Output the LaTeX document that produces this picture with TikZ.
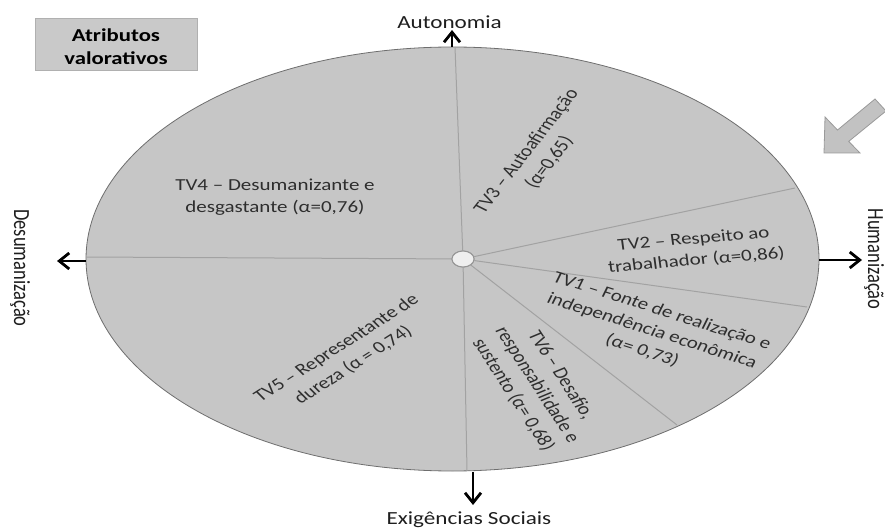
\documentclass[tikz,border=0pt]{standalone}
\usepackage{fontspec}
\setmainfont{Carlito}
\usetikzlibrary{arrows.meta,shapes.geometric}
\definecolor{diskfill}{HTML}{C6C6C6}
\definecolor{diskedge}{HTML}{6E6E6E}
\definecolor{spokecol}{HTML}{A2A2A2}
\definecolor{boxfill}{HTML}{C9C9C9}
\definecolor{boxedge}{HTML}{B0B0B0}
\definecolor{hubfill}{HTML}{EFEFEF}
\definecolor{hubedge}{HTML}{959595}
\definecolor{regioncol}{HTML}{2E2E2E}
\definecolor{labelcol}{HTML}{1E1E1E}
\definecolor{bigarrowfill}{HTML}{C2C2C2}
\definecolor{bigarrowedge}{HTML}{9A9A9A}
\begin{document}
\begin{tikzpicture}[x=1pt,y=-1pt,
  spoke/.style={draw=spokecol, line width=1pt},
  axisarrow/.style={draw=black, line width=2.8pt, -{Straight Barb[length=10pt,width=16pt]}},
  axislabel/.style={font=\fontsize{18.5}{22}\selectfont, text=labelcol, inner sep=0pt, transform shape},
  region/.style={font=\fontsize{16.8}{21.5}\selectfont, text=regioncol, align=center, inner sep=0pt, transform shape},
  titlebox/.style={rectangle, draw=boxedge, fill=boxfill, line width=0.8pt, minimum width=129.6pt, minimum height=52pt, inner sep=0pt, transform shape},
  titletext/.style={font=\bfseries\fontsize{18.2}{23}\selectfont, text=black, align=center, inner sep=0pt, transform shape}
]
\useasboundingbox (0,0) rectangle (885,529);

% disk
\path[fill=diskfill, draw=diskedge, line width=0.8pt] (452.5,259) ellipse [x radius=366.5, y radius=212];

% hub and spoke end points
\node[ellipse, draw=hubedge, fill=hubfill, line width=1pt, minimum width=22pt, minimum height=16pt, inner sep=0pt] (hub) at (463,259) {};
\coordinate (pL) at (86,257);
\coordinate (pT) at (455,47);
\coordinate (p2) at (795,188);
\coordinate (p1) at (807,307);
\coordinate (p6) at (677,425);
\coordinate (pB) at (467,471);
\draw[spoke] (hub) -- (pL);
\draw[spoke] (hub) -- (pT);
\draw[spoke] (hub) -- (p2);
\draw[spoke] (hub) -- (p1);
\draw[spoke] (hub) -- (p6);
\draw[spoke] (hub) -- (pB);
\node[ellipse, draw=hubedge, fill=hubfill, line width=1pt, minimum width=22pt, minimum height=16pt, inner sep=0pt] at (hub) {};

% axis arrows
\coordinate (tA) at (452,47);  \coordinate (tB) at (452,30);
\coordinate (bA) at (473,472); \coordinate (bB) at (473,505);
\coordinate (lA) at (86,261);  \coordinate (lB) at (57,261);
\coordinate (rA) at (819,260); \coordinate (rB) at (862,260);
\draw[axisarrow] (tA) -- (tB);
\draw[axisarrow] (bA) -- (bB);
\draw[axisarrow] (lA) -- (lB);
\draw[axisarrow] (rA) -- (rB);

% axis labels
\begin{scope}[shift={(449.5,29)}, xscale=1.25]
  \node[axislabel, anchor=base] (autonomia) at (0,0) {Autonomia};
\end{scope}
\begin{scope}[shift={(469,524)}, xscale=1.25]
  \node[axislabel, anchor=base] (exig) at (0,0) {Exigências Sociais};
\end{scope}
\begin{scope}[shift={(14,268)}, xscale=1.25, rotate=-90]
  \node[axislabel, anchor=base] (desum) at (0,0) {Desumanização};
\end{scope}
\begin{scope}[shift={(868,259)}, xscale=1.25, rotate=-90]
  \node[axislabel, anchor=base] (human) at (0,0) {Humanização};
\end{scope}

% title box
\begin{scope}[shift={(116,44)}, xscale=1.25]
  \node[titlebox] (box) at (0,0) {};
\end{scope}
\begin{scope}[shift={(116,47)}, xscale=1.25]
  \node[titletext] (boxtext) at (0,0) {Atributos\\valorativos};
\end{scope}

% region labels
\begin{scope}[shift={(275,197)}, xscale=1.25]
  \node[region] (tv4) at (0,0) {TV4 – Desumanizante e\\desgastante (α=0,76)};
\end{scope}
\begin{scope}[shift={(538,157)}, xscale=1.25, rotate=58]
  \node[region] (tv3) at (0,0) {TV3 – Autoafirmação\\(α=0,65)};
\end{scope}
\begin{scope}[shift={(695,250)}, xscale=1.25, rotate=6.2]
  \node[region] (tv2) at (0,0) {TV2 – Respeito ao\\trabalhador (α=0,86)};
\end{scope}
\begin{scope}[shift={(652,331)}, xscale=1.25, rotate=-21.6]
  \node[region] (tv1) at (0,0) {TV1 – Fonte de realização e\\independência econômica\\(α= 0,73)};
\end{scope}
\begin{scope}[shift={(537,385)}, xscale=1.25, rotate=-62.5]
  \node[region] (tv6) at (0,0) {TV6 – Desafio,\\responsabilidade e\\sustento (α= 0,68)};
\end{scope}
\begin{scope}[shift={(345,357)}, xscale=1.25, rotate=38.5]
  \node[region] (tv5) at (0,0) {TV5 – Representante de\\dureza (α = 0,74)};
\end{scope}

% big grey arrow (top right)
\path[fill=bigarrowfill, draw=bigarrowedge, line width=0.8pt]
  (824,153) -- (825,117) -- (837.5,130) -- (875,99) -- (886,111) -- (848.7,141.4) -- (860,153) -- cycle;
\end{tikzpicture}
\end{document}
